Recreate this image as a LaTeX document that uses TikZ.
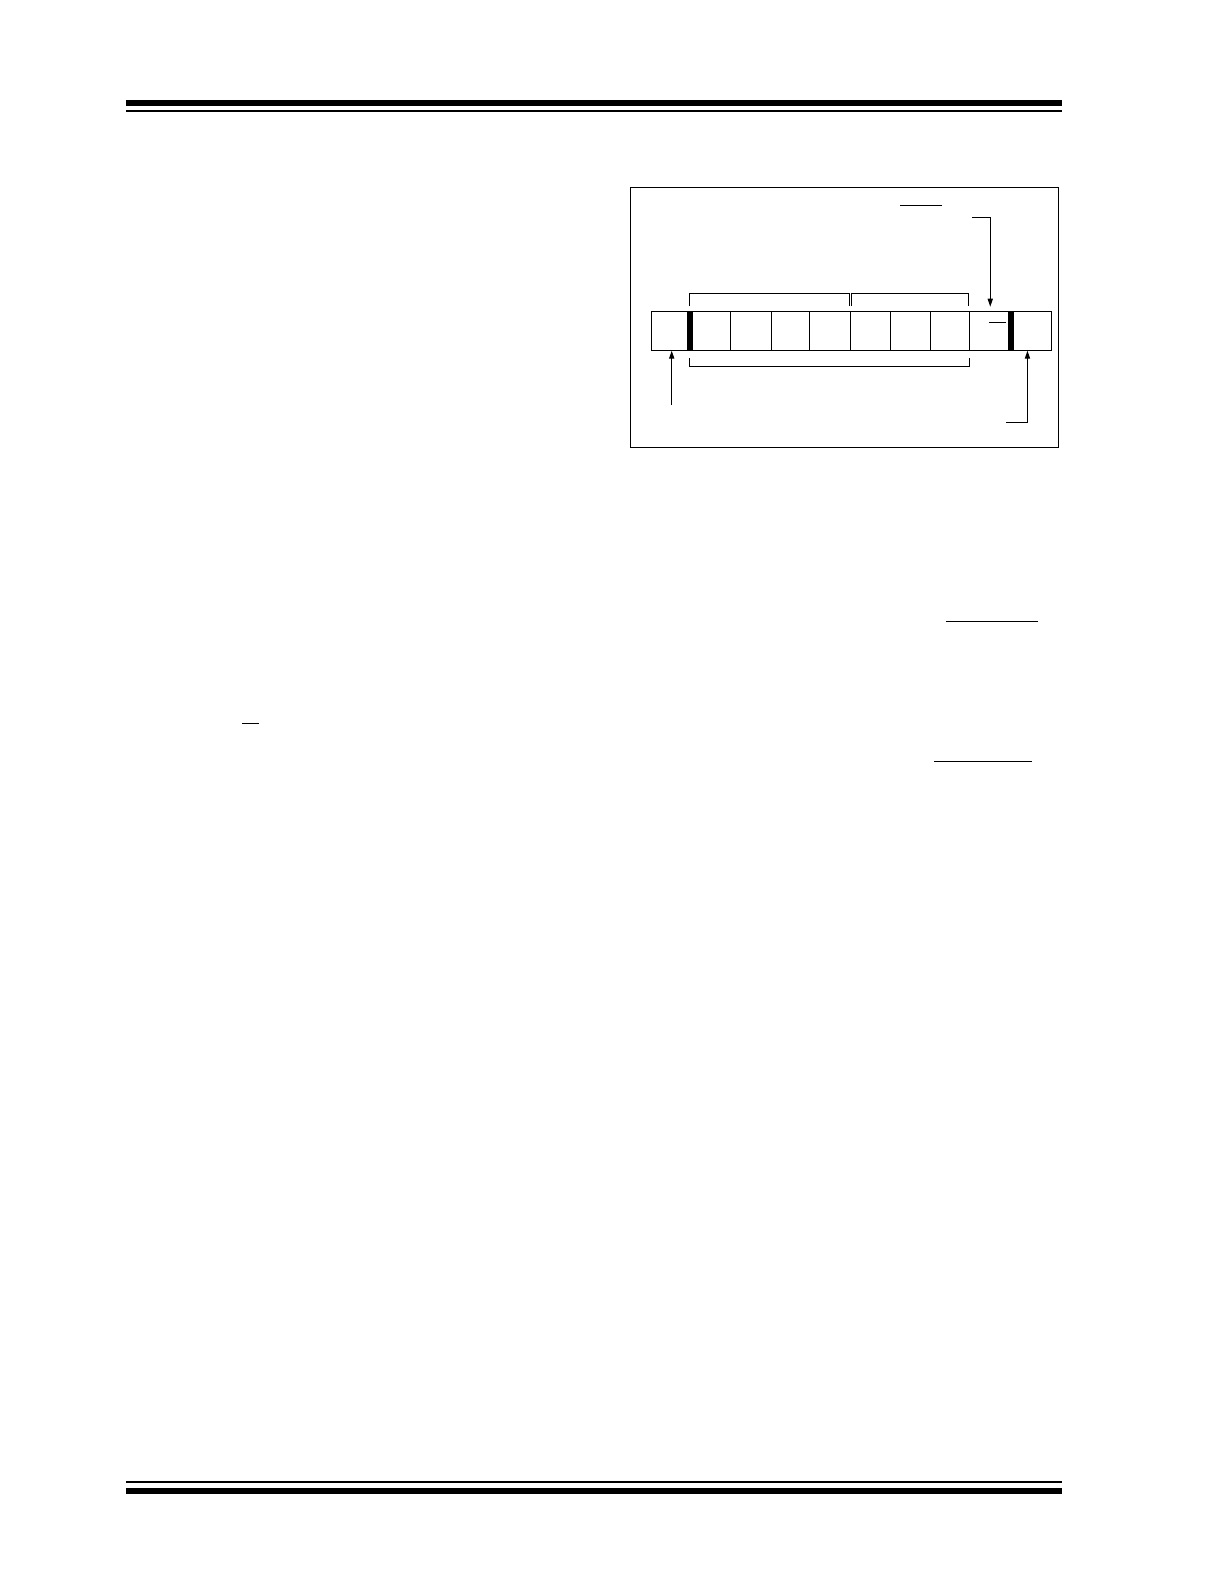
\documentclass[tikz,border=0pt]{standalone}
\usepackage{tikz}
\usetikzlibrary{arrows.meta, positioning}

\begin{document}
\begin{tikzpicture}[
    x=0.5pt, y=-0.5pt,
    cell/.style={rectangle, draw, line width=0.5pt, minimum height=19.5pt, inner sep=0pt, outer sep=0pt},
    thin/.style={line width=0.5pt},
    bar/.style={line width=3pt},
    arrow/.style={-{Triangle[length=4pt, width=2.6pt]}, line width=0.5pt}
]
    \useasboundingbox (0,0) rectangle (1224,1584);

    % Page rules
    \fill (126,100) rectangle (1062,106);
    \fill (126,110) rectangle (1062,112);
    \fill (126,1481) rectangle (1062,1483);
    \fill (126,1488) rectangle (1062,1494);

    % Frame
    \draw[thin] (630.7,187.3) rectangle (1058,447.7);

    % Cells
    \node[cell, minimum width=19.2pt] (c1) at (670.5,331.2) {};
    \node[cell, minimum width=20.3pt, right=0pt of c1] (c2) {};
    \node[cell, minimum width=20.7pt, right=0pt of c2] (c3) {};
    \node[cell, minimum width=19pt, right=0pt of c3] (c4) {};
    \node[cell, minimum width=20.3pt, right=0pt of c4] (c5) {};
    \node[cell, minimum width=20pt, right=0pt of c5] (c6) {};
    \node[cell, minimum width=20.2pt, right=0pt of c6] (c7) {};
    \node[cell, minimum width=19.3pt, right=0pt of c7] (c8) {};
    \node[cell, minimum width=20.95pt, right=0pt of c8] (c9) {};
    \node[cell, minimum width=20.25pt, right=0pt of c9] (c10) {};

    % Thick separators
    \draw[bar] (c2.north west) -- (c2.south west);
    \draw[bar] (c10.north west) -- (c10.south west);

    % Brackets
    \draw[thin] ([yshift=2.85pt]c2.north west) -- ([yshift=9.2pt]c2.north west) -- ([xshift=-0.4pt, yshift=9.2pt]c5.north east) -- ([xshift=-0.4pt, yshift=2.85pt]c5.north east);
    \draw[thin] ([xshift=0.5pt, yshift=2.85pt]c5.north east) -- ([xshift=0.5pt, yshift=9.2pt]c5.north east) -- ([xshift=-0.5pt, yshift=9.2pt]c8.north east) -- ([xshift=-0.5pt, yshift=2.85pt]c8.north east);
    \draw[thin] ([yshift=-3.65pt]c2.south west) -- ([yshift=-8pt]c2.south west) -- ([yshift=-8pt]c8.south east) -- ([yshift=-3.65pt]c8.south east);

    % Overbars
    \draw[thin] (900,205) -- (942,205);
    \draw[thin] (989,322.7) -- (1005.7,322.7);
    \draw[thin] (946,621.7) -- (1037.7,621.7);
    \draw[thin] (934.3,761.7) -- (1031.7,761.7);
    \draw[thin] (242,723.3) -- (259,723.3);

    % Arrows
    \coordinate (topin) at (972,217.3);
    \coordinate (leftin) at (671.7,405);
    \coordinate (rightin) at (1006,422.3);
    \draw[arrow, shorten >=2.5pt] (topin) -| (c9.north);
    \draw[arrow] (leftin) -- (leftin |- c1.south);
    \draw[arrow] (rightin) -| ([xshift=-2pt]c10.south);
\end{tikzpicture}
\end{document}
